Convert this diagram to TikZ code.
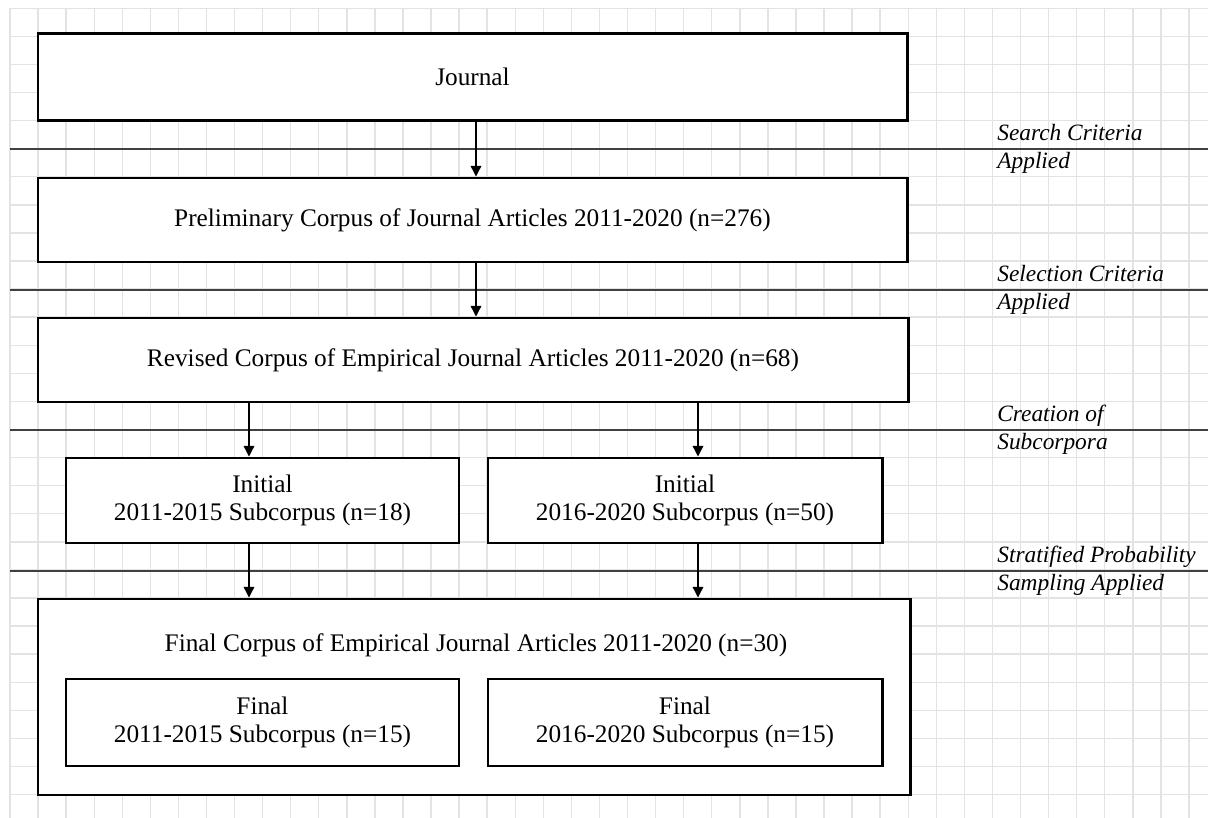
\documentclass[tikz,border=0pt]{standalone}
\usepackage{fontspec}
\setmainfont{Liberation Serif}
\usetikzlibrary{arrows.meta}
\newcommand{\unitpx}{0.02cm}

\begin{document}
\begin{tikzpicture}[x=0.02cm, y=-0.02cm,
    gridline/.style={draw=black!11, line width=0.8pt},
    divider/.style={draw=black!75, line width=0.75pt},
    stage/.style={draw=black, line width=1.7pt, fill=white, inner sep=0pt, align=center,
        font=\fontsize{14.4}{16}\selectfont},
    note/.style={anchor=base west, inner sep=0pt, align=left,
        font=\fontsize{13.3}{15.8}\selectfont\itshape},
    flow/.style={draw=black, line width=0.75pt, -{Triangle[length=6pt, width=6pt]}}]
    \useasboundingbox[fill=white] (0,0) rectangle (1208,818);

    % squared paper
    \foreach \i in {0,...,42}
        \draw[gridline] ({10+28.07*\i},8) -- ({10+28.07*\i},818);
    \foreach \j in {0,...,28}
        \draw[gridline] (10,{8.3+28.08*\j}) -- (1208,{8.3+28.08*\j});

    % step dividers
    \foreach \y in {149, 290, 430, 571}
        \draw[divider] (10,\y) -- (1208,\y);

    \coordinate (colmain) at (476,0);
    \coordinate (colleft) at (249,0);
    \coordinate (colright) at (698,0);

    \node[stage, minimum width=869*\unitpx, minimum height=87*\unitpx] (journal) at (472.5,77) {Journal};
    \node[stage, minimum width=869*\unitpx, minimum height=84*\unitpx] (prelim) at (472.5,220)
        {Preliminary Corpus of Journal Articles 2011-2020 (n=276)};
    \node[stage, minimum width=870*\unitpx, minimum height=84*\unitpx] (revised) at (473,360)
        {Revised Corpus of Empirical Journal Articles 2011-2020 (n=68)};
    \node[stage, minimum width=393*\unitpx, minimum height=85*\unitpx] (init1) at (262.5,500.5)
        {Initial\\2011-2015 Subcorpus (n=18)};
    \node[stage, minimum width=394*\unitpx, minimum height=85*\unitpx] (init2) at (685,500.5)
        {Initial\\2016-2020 Subcorpus (n=50)};
    \node[stage, minimum width=872*\unitpx, minimum height=196*\unitpx] (final) at (474,697) {};
    \node[stage, draw=none, fill=none, anchor=base] (finaltitle) at (476,651.7)
        {Final Corpus of Empirical Journal Articles 2011-2020 (n=30)};
    \node[stage, minimum width=393*\unitpx, minimum height=87*\unitpx] (final1) at (262.5,722.5)
        {Final\\2011-2015 Subcorpus (n=15)};
    \node[stage, minimum width=394*\unitpx, minimum height=87*\unitpx] (final2) at (685,722.5)
        {Final\\2016-2020 Subcorpus (n=15)};

    \draw[flow] (journal.south -| colmain) -- (prelim.north -| colmain);
    \draw[flow] (prelim.south -| colmain) -- (revised.north -| colmain);
    \draw[flow] (revised.south -| colleft) -- (init1.north -| colleft);
    \draw[flow] (revised.south -| colright) -- (init2.north -| colright);
    \draw[flow] (init1.south -| colleft) -- (final.north -| colleft);
    \draw[flow] (init2.south -| colright) -- (final.north -| colright);

    % what happens at each step (base = second line)
    \node[note] (search) at (997,168) {Search Criteria\\Applied};
    \node[note] (selection) at (997,309) {Selection Criteria\\Applied};
    \node[note] (creation) at (997,449) {Creation of\\Subcorpora};
    \node[note] (sampling) at (997,590) {Stratified Probability\\Sampling Applied};
\end{tikzpicture}
\end{document}
